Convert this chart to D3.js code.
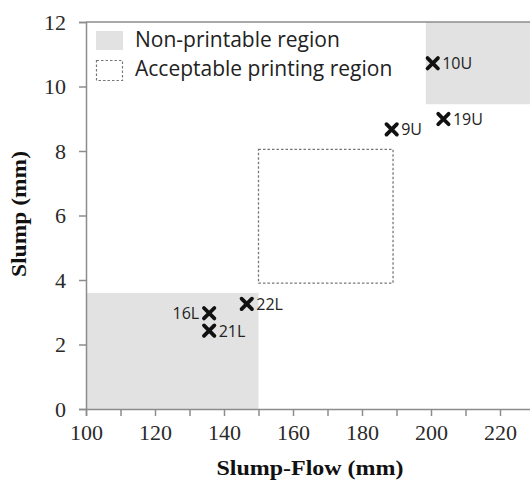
<!DOCTYPE html>
<html lang="en">
<head>
  <meta charset="utf-8">
  <title>Slump vs Slump-Flow</title>
  <style>
    body { margin: 0; background: #fff; }
  </style>
</head>
<body>
  <script src="https://cdn.jsdelivr.net/npm/d3@7"></script>
  <script>
    // data
    var names = ["10U", "19U", "9U", "22L", "16L", "21L"];
    var flow = [200.5, 203.6, 188.6, 146.6, 135.7, 135.7];
    var slump = [10.72, 8.99, 8.67, 3.26, 2.97, 2.43];
    var labelSide = ["right", "right", "right", "right", "left", "right"];

    // regions: [x0, x1, y0, y1]
    var nonPrintable = [[100, 150, 0, 3.6], [198.5, 230, 9.45, 12]];
    var acceptable = [150, 189, 3.9, 8.05];

    var xTicks = [100, 120, 140, 160, 180, 200, 220];
    var xMinor = [110, 130, 150, 170, 190, 210, 230];
    var yTicks = [0, 2, 4, 6, 8, 10, 12];

    var width = 530, height = 482;
    var svg = d3.select("body").append("svg")
      .attr("width", width)
      .attr("height", height);

    var x = d3.scaleLinear().domain([100, 230]).range([86, 534.5]);
    var y = d3.scaleLinear().domain([0, 12]).range([409, 22]);

    var axisColor = "#8c8c8c";

    // shaded regions
    svg.selectAll("rect.np")
      .data(nonPrintable)
      .enter()
      .append("rect")
      .attr("class", "np")
      .attr("x", function(d) { return x(d[0]); })
      .attr("y", function(d) { return y(d[3]); })
      .attr("width", function(d) { return x(d[1]) - x(d[0]); })
      .attr("height", function(d) { return y(d[2]) - y(d[3]); })
      .attr("fill", "#e2e2e2");

    svg.append("rect")
      .attr("x", x(acceptable[0]))
      .attr("y", y(acceptable[3]))
      .attr("width", x(acceptable[1]) - x(acceptable[0]))
      .attr("height", y(acceptable[2]) - y(acceptable[3]))
      .attr("fill", "none")
      .attr("stroke", "#777")
      .attr("stroke-width", 1.3)
      .attr("stroke-dasharray", "2.5,2");

    // frame: top line
    svg.append("line")
      .attr("x1", x(100)).attr("x2", width)
      .attr("y1", y(12)).attr("y2", y(12))
      .attr("stroke", axisColor).attr("stroke-width", 1.5);

    // x axis
    var gx = svg.append("g")
      .attr("transform", "translate(0," + y(0) + ")")
      .call(d3.axisBottom(x).tickValues(xTicks).tickSize(7).tickFormat(d3.format("d")));
    svg.append("g")
      .attr("transform", "translate(0," + y(0) + ")")
      .call(d3.axisBottom(x).tickValues(xMinor).tickSize(7).tickFormat(""))
      .select(".domain").remove();

    // y axis
    var gy = svg.append("g")
      .attr("transform", "translate(" + x(100) + ",0)")
      .call(d3.axisLeft(y).tickValues(yTicks).tickSize(7).tickFormat(d3.format("d")));

    svg.selectAll(".domain").attr("stroke", axisColor).attr("stroke-width", 1.5);
    svg.selectAll(".tick line").attr("stroke", axisColor).attr("stroke-width", 1.5);
    svg.selectAll(".tick text")
      .attr("fill", "#2a2a2a")
      .style("font-family", "'Liberation Serif', 'DejaVu Serif', serif")
      .style("font-size", "22px");
    gx.selectAll(".tick text").attr("y", 10).attr("dy", "0.95em");
    gy.selectAll(".tick text").attr("x", -20).attr("dy", "0.34em");

    // axis titles
    svg.append("text")
      .attr("x", 310)
      .attr("y", 475)
      .attr("text-anchor", "middle")
      .attr("textLength", 187)
      .attr("lengthAdjust", "spacingAndGlyphs")
      .style("font-family", "'Liberation Serif', serif")
      .style("font-weight", "bold")
      .style("font-size", "20px")
      .attr("fill", "#111")
      .text("Slump-Flow (mm)");

    svg.append("text")
      .attr("transform", "translate(26,214) rotate(-90)")
      .attr("text-anchor", "middle")
      .attr("textLength", 126)
      .attr("lengthAdjust", "spacingAndGlyphs")
      .style("font-family", "'Liberation Serif', serif")
      .style("font-weight", "bold")
      .style("font-size", "20px")
      .attr("fill", "#111")
      .text("Slump (mm)");

    // markers
    var s = 5.2;
    var pts = svg.selectAll("g.pt")
      .data(names)
      .enter()
      .append("g")
      .attr("class", "pt")
      .attr("transform", function(d, i) { return "translate(" + x(flow[i]) + "," + y(slump[i]) + ")"; });

    pts.append("path")
      .attr("d", "M" + (-s) + "," + (-s) + "L" + s + "," + s + "M" + (-s) + "," + s + "L" + s + "," + (-s))
      .attr("stroke", "#111")
      .attr("stroke-width", 3.8)
      .attr("stroke-linecap", "round");

    pts.append("text")
      .attr("x", function(d, i) { return labelSide[i] == "left" ? -10 : 9.5; })
      .attr("y", 6)
      .attr("text-anchor", function(d, i) { return labelSide[i] == "left" ? "end" : "start"; })
      .style("font-family", "'Open Sans', sans-serif")
      .style("font-size", "16px")
      .attr("fill", "#222")
      .text(function(d) { return d; });

    // legend
    var legend = svg.append("g");
    legend.append("rect")
      .attr("x", 96).attr("y", 31)
      .attr("width", 27).attr("height", 19)
      .attr("fill", "#e2e2e2");
    legend.append("rect")
      .attr("x", 96.5).attr("y", 60.5)
      .attr("width", 26).attr("height", 20)
      .attr("fill", "none")
      .attr("stroke", "#777")
      .attr("stroke-width", 1.2)
      .attr("stroke-dasharray", "2.5,2");
    legend.append("text")
      .attr("x", 135).attr("y", 46.5)
      .style("font-family", "'Open Sans', sans-serif")
      .style("font-size", "21px")
      .attr("fill", "#222")
      .text("Non-printable region");
    legend.append("text")
      .attr("x", 135).attr("y", 76)
      .style("font-family", "'Open Sans', sans-serif")
      .style("font-size", "21px")
      .attr("fill", "#222")
      .text("Acceptable printing region");
  </script>
</body>
</html>
